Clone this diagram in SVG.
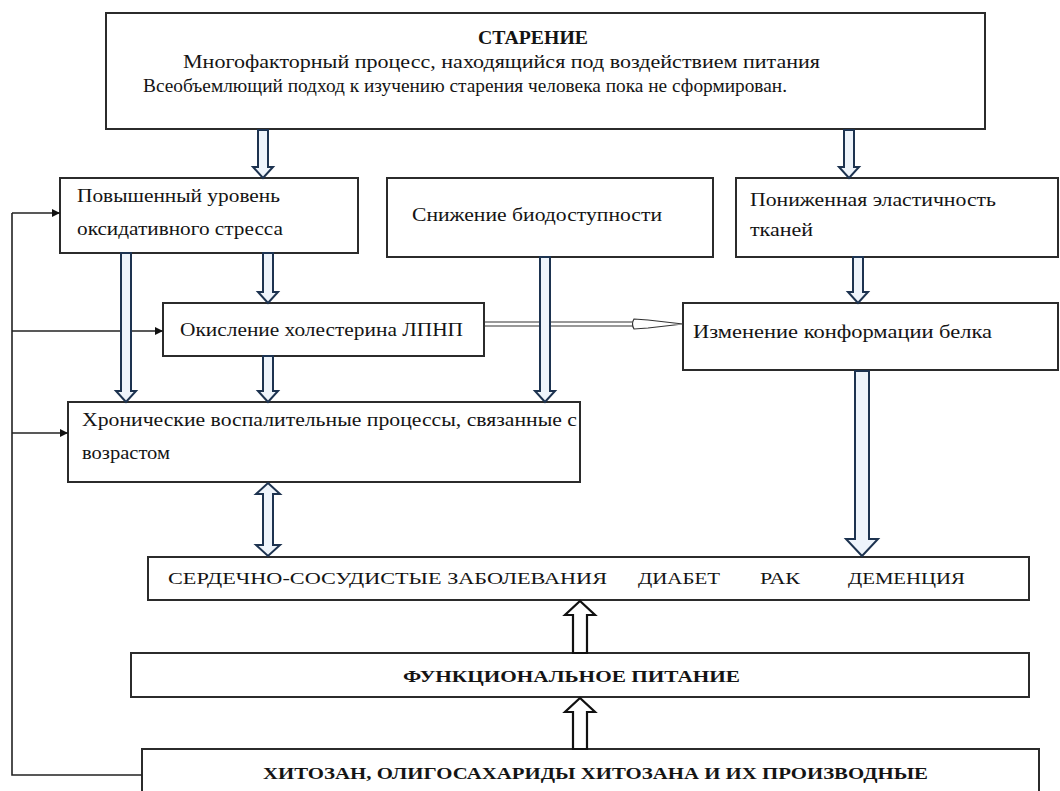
<svg xmlns="http://www.w3.org/2000/svg" width="1060" height="791" viewBox="0 0 1060 791">
<style>
.box{fill:#fff;stroke:#2b2b2b;stroke-width:2}
.t{font-family:"Liberation Serif","DejaVu Serif",serif;font-size:18px;fill:#141414}
.c{font-family:"Liberation Serif","DejaVu Serif",serif;font-size:17px;fill:#141414}
.b{font-weight:bold}
.blk{fill:#eef4fb;stroke:#1d3350;stroke-width:2;stroke-linejoin:miter}
.up{fill:#fff;stroke:#111;stroke-width:2.2}
.ln{fill:none;stroke:#222;stroke-width:1.6}
.thin{fill:none;stroke:#333;stroke-width:1.2}
</style>
<defs>
<marker id="tri" viewBox="0 0 10 10" refX="10" refY="5" markerWidth="8" markerHeight="8" markerUnits="userSpaceOnUse" orient="auto">
<path d="M0,0 L10,5 L0,10 z" fill="#111"/>
</marker>
</defs>
<rect width="1060" height="791" fill="#fff"/>

<g id="n-starenie">
<rect class="box" x="106" y="13" width="879" height="116"/>
<text class="t b" x="478" y="44" textLength="110" lengthAdjust="spacingAndGlyphs">СТАРЕНИЕ</text>
<text class="t" x="183" y="68" textLength="637" lengthAdjust="spacingAndGlyphs">Многофакторный процесс, находящийся под воздействием питания</text>
<text class="t" x="143" y="92" textLength="644" lengthAdjust="spacingAndGlyphs">Всеобъемлющий подход к изучению старения человека пока не сформирован.</text>
</g>

<g id="n-oxstress">
<rect class="box" x="60" y="178" width="298" height="75"/>
<text class="t" x="77" y="202" textLength="203" lengthAdjust="spacingAndGlyphs">Повышенный уровень</text>
<text class="t" x="77" y="235" textLength="206" lengthAdjust="spacingAndGlyphs">оксидативного стресса</text>
</g>

<g id="n-bio">
<rect class="box" x="387" y="178" width="326" height="79"/>
<text class="t" x="412" y="221" textLength="250" lengthAdjust="spacingAndGlyphs">Снижение биодоступности</text>
</g>

<g id="n-elast">
<rect class="box" x="736" y="178" width="322" height="79"/>
<text class="t" x="750" y="206" textLength="246" lengthAdjust="spacingAndGlyphs">Пониженная эластичность</text>
<text class="t" x="750" y="236" textLength="63" lengthAdjust="spacingAndGlyphs">тканей</text>
</g>

<g id="n-ldl">
<rect class="box" x="163" y="303" width="321" height="53"/>
<text class="t" x="180" y="336" textLength="283" lengthAdjust="spacingAndGlyphs">Окисление холестерина ЛПНП</text>
</g>

<g id="n-protein">
<rect class="box" x="683" y="303" width="375" height="67"/>
<text class="t" x="693" y="338" textLength="299" lengthAdjust="spacingAndGlyphs">Изменение конформации белка</text>
</g>

<g id="n-inflam">
<rect class="box" x="68" y="402" width="512" height="80"/>
<text class="t" x="82" y="426" textLength="495" lengthAdjust="spacingAndGlyphs">Хронические воспалительные процессы, связанные с</text>
<text class="t" x="82" y="459" textLength="88" lengthAdjust="spacingAndGlyphs">возрастом</text>
</g>

<g id="n-diseases">
<rect class="box" x="148" y="557" width="881" height="43"/>
<text class="c" x="168" y="584" textLength="439" lengthAdjust="spacingAndGlyphs">СЕРДЕЧНО-СОСУДИСТЫЕ ЗАБОЛЕВАНИЯ</text>
<text class="c" x="638" y="584" textLength="82" lengthAdjust="spacingAndGlyphs">ДИАБЕТ</text>
<text class="c" x="760" y="584" textLength="40" lengthAdjust="spacingAndGlyphs">РАК</text>
<text class="c" x="848" y="584" textLength="117" lengthAdjust="spacingAndGlyphs">ДЕМЕНЦИЯ</text>
</g>

<g id="n-func">
<rect class="box" x="131" y="653" width="898" height="44"/>
<text class="c b" x="403" y="682" textLength="337" lengthAdjust="spacingAndGlyphs">ФУНКЦИОНАЛЬНОЕ ПИТАНИЕ</text>
</g>

<g id="n-chitosan">
<rect class="box" x="142" y="749" width="897" height="52"/>
<text class="c b" x="263" y="779" textLength="665" lengthAdjust="spacingAndGlyphs">ХИТОЗАН, ОЛИГОСАХАРИДЫ ХИТОЗАНА И ИХ ПРОИЗВОДНЫЕ</text>
</g>

<g id="connectors">
<path class="ln" d="M142,775 L12,775 L12,213"/>
<path class="ln" d="M12,213 L60,213" marker-end="url(#tri)"/>
<path class="ln" d="M12,331 L163,331" marker-end="url(#tri)"/>
<path class="ln" d="M12,433 L68,433" marker-end="url(#tri)"/>

<path class="thin" d="M484,322 L634,322 M484,326 L634,326"/>
<path class="thin" d="M634,319 L648,320 L683,324 L648,328 L634,329 Q631,324 634,319 z" style="fill:#fff"/>

<polygon class="blk" points="258,130 268,130 268,167 273,167 263,178 253,167 258,167"/>
<polygon class="blk" points="844,130 854,130 854,167 859,167 849,178 839,167 844,167"/>
<polygon class="blk" points="121,253 131,253 131,391 136,391 126,402 116,391 121,391"/>
<polygon class="blk" points="263,253 273,253 273,292 278,292 268,303 258,292 263,292"/>
<polygon class="blk" points="263,356 273,356 273,391 278,391 268,402 258,391 263,391"/>
<polygon class="blk" points="540,257 550,257 550,391 555,391 545,402 535,391 540,391"/>
<polygon class="blk" points="853,257 863,257 863,292 868,292 858,303 848,292 853,292"/>
<polygon class="blk" points="855,371 869,371 869,539 878,539 862,556 846,539 855,539"/>
<polygon class="blk" points="268,483 280,494 273,494 273,545 280,545 268,556 256,545 263,545 263,494 256,494"/>

<polygon class="up" points="573,653 587,653 587,615 595,615 580,601 565,615 573,615"/>
<polygon class="up" points="573,749 587,749 587,712 595,712 580,698 565,712 573,712"/>
</g>
</svg>
